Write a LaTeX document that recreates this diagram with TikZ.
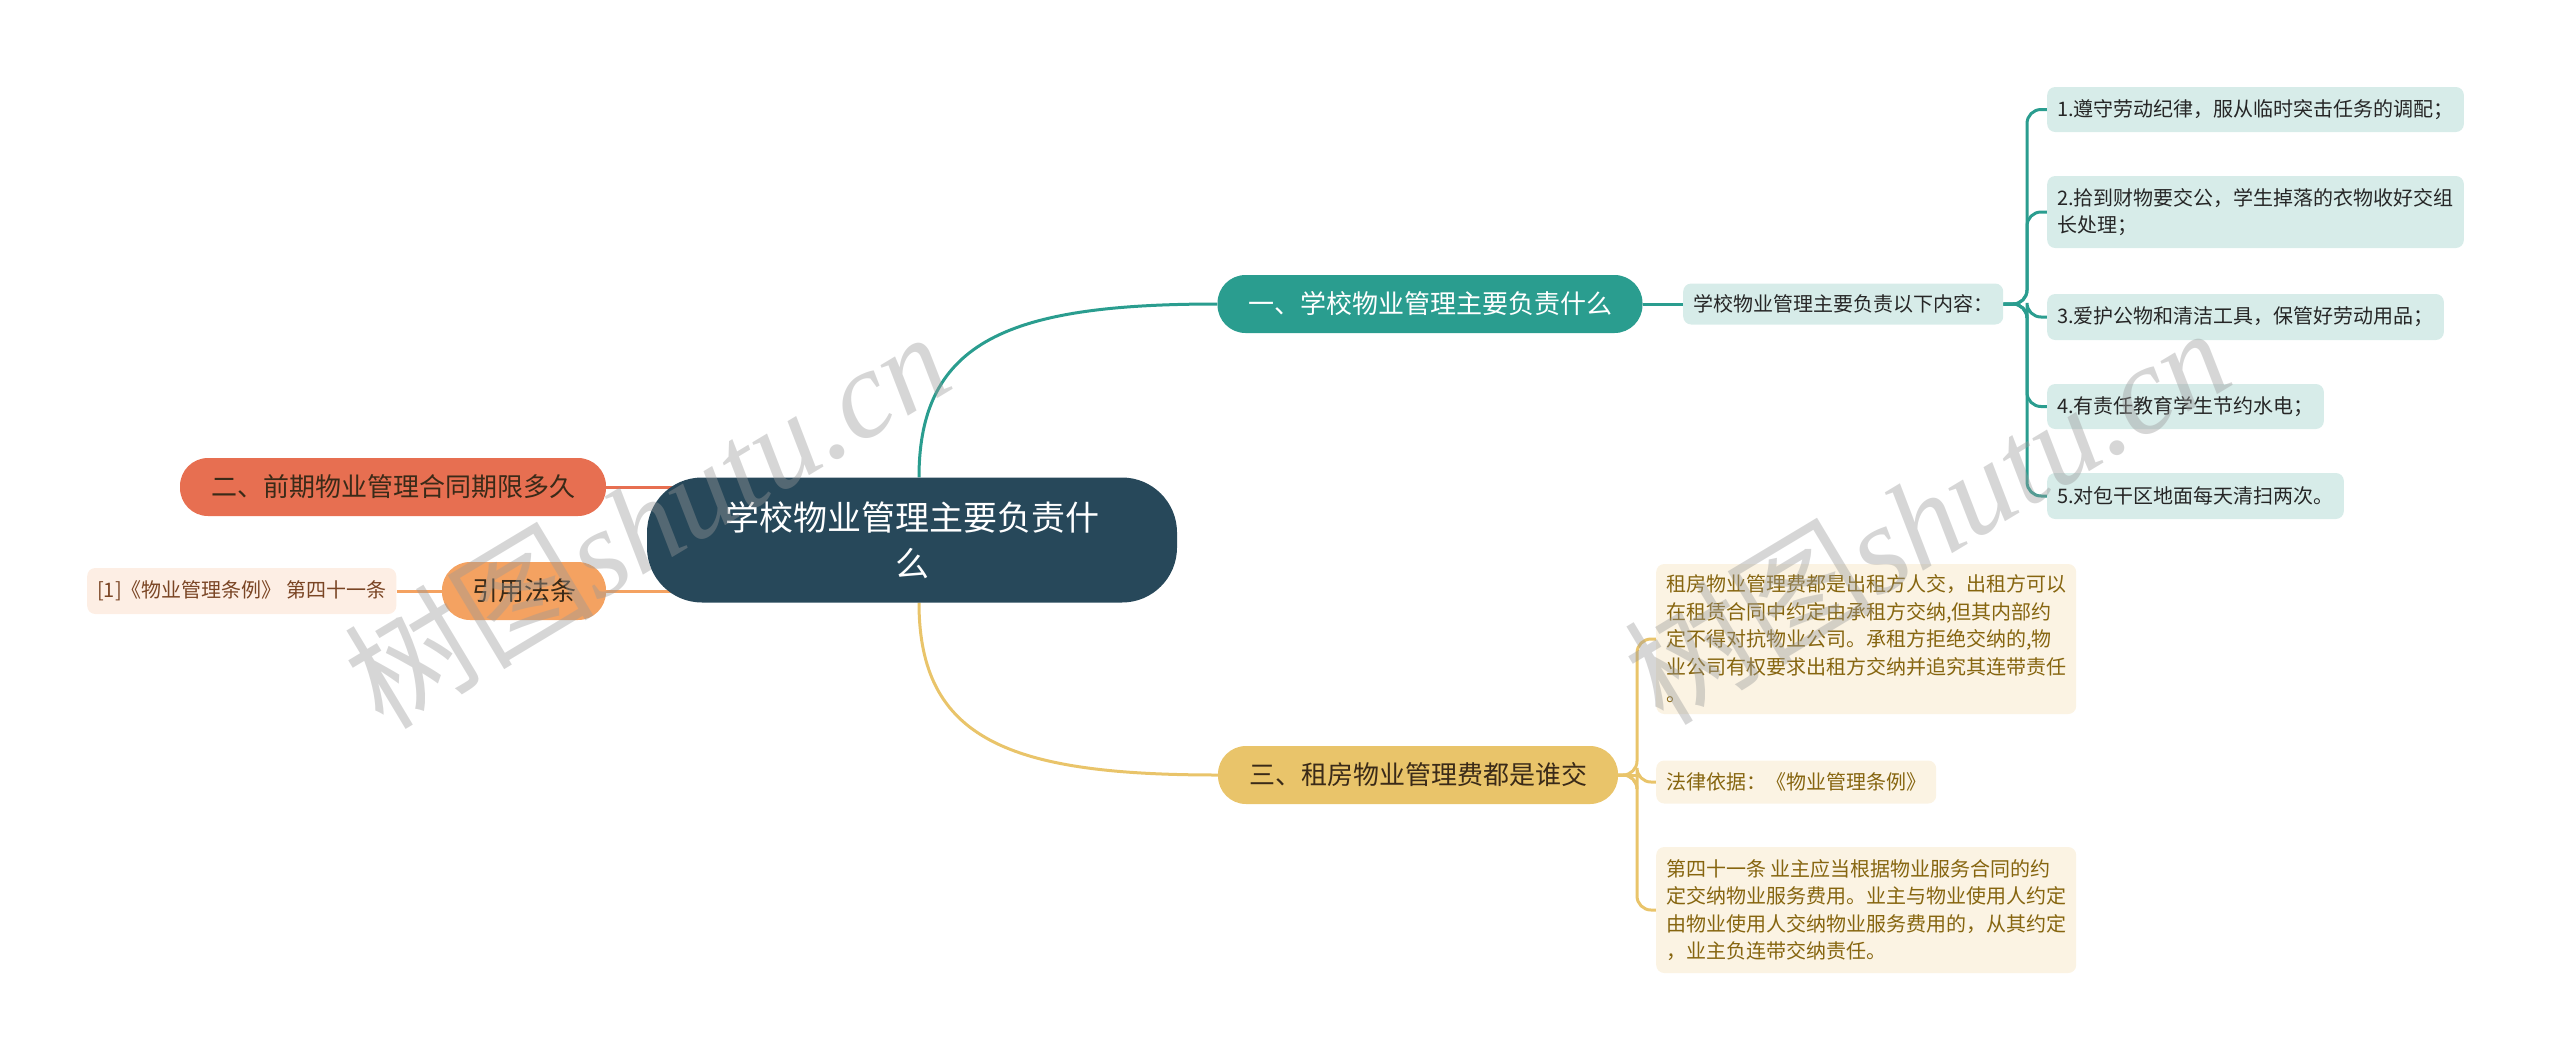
\documentclass[tikz,border=0pt]{standalone}
\usepackage{fontspec}
\setmainfont{Noto Sans CJK SC}
\newfontfamily\wmserif{Liberation Serif}
\usetikzlibrary{backgrounds}
\definecolor{rootc}{HTML}{27485A}
\definecolor{tealc}{HTML}{2A9D8F}
\definecolor{teallt}{HTML}{D7ECE9}
\definecolor{redc}{HTML}{E76F51}
\definecolor{orc}{HTML}{F4A261}
\definecolor{orlt}{HTML}{FDEEE4}
\definecolor{orTxt}{HTML}{7A4524}
\definecolor{yelc}{HTML}{E9C46A}
\definecolor{yellt}{HTML}{FBF3E3}
\definecolor{yelTxt}{HTML}{86650F}
\definecolor{darkTxt}{HTML}{3A2A18}
\tikzset{
  rootbox/.style={rectangle, rounded corners=55pt, fill=rootc, text=white, minimum width=530pt, minimum height=125pt, align=center, font=\fontsize{34}{46}\selectfont},
  mainbox/.style={rectangle, rounded corners=28pt, minimum height=58pt, align=center, font=\fontsize{26}{32}\selectfont},
  leafbox/.style={rectangle, rounded corners=8pt, anchor=west, inner xsep=10pt, inner ysep=6pt, align=left, font=\fontsize{20}{27.5}\selectfont},
  tealleaf/.style={leafbox, fill=teallt, text=black!85},
  yelleaf/.style={leafbox, fill=yellt, text=yelTxt},
  conn/.style={line width=3pt},
  wm/.style={text=gray!80, opacity=0.4, rotate=31, inner sep=0pt, font=\fontsize{125}{125}\selectfont}
}
\begin{document}
\begin{tikzpicture}[x=1pt,y=-1pt]
\useasboundingbox (0,0) rectangle (2560,1061);
% root
\node[rootbox] (root) at (912,540) {学校物业管理主要负责什\\么};
% main branches
\node[mainbox, fill=tealc, text=white, minimum width=425pt] (b1) at (1430,304) {一、学校物业管理主要负责什么};
\node[mainbox, fill=redc, text=darkTxt, minimum width=426pt] (b2) at (393,487) {二、前期物业管理合同期限多久};
\node[mainbox, fill=orc, text=darkTxt, minimum width=164pt] (cite) at (524,591) {引用法条};
\node[mainbox, fill=yelc, text=darkTxt, minimum width=400pt] (b3) at (1418,775) {三、租房物业管理费都是谁交};
% cite leaf
\node[leafbox, fill=orlt, text=orTxt, minimum height=46pt] (citeleaf) at (87,591) {[1]《物业管理条例》 第四十一条};
% teal sub
\node[tealleaf, minimum height=41pt] (sub) at (1683,304) {学校物业管理主要负责以下内容：};
\node[tealleaf, minimum height=45pt] (l1) at (2047,109.5) {1.遵守劳动纪律，服从临时突击任务的调配；};
\node[tealleaf, minimum height=72pt] (l2) at (2047,212) {2.拾到财物要交公，学生掉落的衣物收好交组\\长处理；};
\node[tealleaf, minimum height=46pt] (l3) at (2047,317) {3.爱护公物和清洁工具，保管好劳动用品；};
\node[tealleaf, minimum height=45pt] (l4) at (2047,406.5) {4.有责任教育学生节约水电；};
\node[tealleaf, minimum height=46pt] (l5) at (2047,496) {5.对包干区地面每天清扫两次。};
% yellow leaves
\node[yelleaf, minimum height=150pt] (ya) at (1656,639) {租房物业管理费都是出租方人交，出租方可以\\在租赁合同中约定由承租方交纳,但其内部约\\定不得对抗物业公司。承租方拒绝交纳的,物\\业公司有权要求出租方交纳并追究其连带责任\\。};
\node[yelleaf, minimum height=43pt] (yb) at (1656,782) {法律依据：《物业管理条例》};
\node[yelleaf, minimum height=126pt] (yc) at (1656,910) {第四十一条 业主应当根据物业服务合同的约\\定交纳物业服务费用。业主与物业使用人约定\\由物业使用人交纳物业服务费用的，从其约定\\，业主负连带交纳责任。};
% coordinates
\coordinate (tbus) at (2027,304);
\coordinate (ybus) at (1637,775);
\begin{pgfonlayer}{background}
  \draw[conn, tealc] ([xshift=7pt]root.north) .. controls ([xshift=7pt]root.north |- 0,340) and (1010,304) .. (b1.west);
  \draw[conn, yelc] ([xshift=7pt]root.south) .. controls ([xshift=7pt]root.south |- 0,740) and (1010,775) .. (b3.west);
  \draw[conn, redc] (b2.east) -- (root.center |- b2.east);
  \draw[conn, orc] (cite.east) -- (root.center |- cite.east);
  \draw[conn, orc] (citeleaf.east) -- (cite.west);
  \draw[conn, tealc] (b1.east) -- (sub.west);
  \draw[conn, yelc] (b3.east) -- (ybus);
  \foreach \l in {l1,l2,l3,l4,l5} {
    \draw[conn, tealc, rounded corners=14pt] (sub.east) -- (tbus) |- (\l.west);
  }
  \foreach \l in {ya,yb,yc} {
    \draw[conn, yelc, rounded corners=14pt] (b3.east) -- (ybus) |- (\l.west);
  }
\end{pgfonlayer}
% watermarks
\node[wm] (wm1) at (646,518) {树图{\wmserif\itshape shutu.cn}};
\node[wm] (wm2) at (1926,514) {树图{\wmserif\itshape shutu.cn}};
\end{tikzpicture}
\end{document}
